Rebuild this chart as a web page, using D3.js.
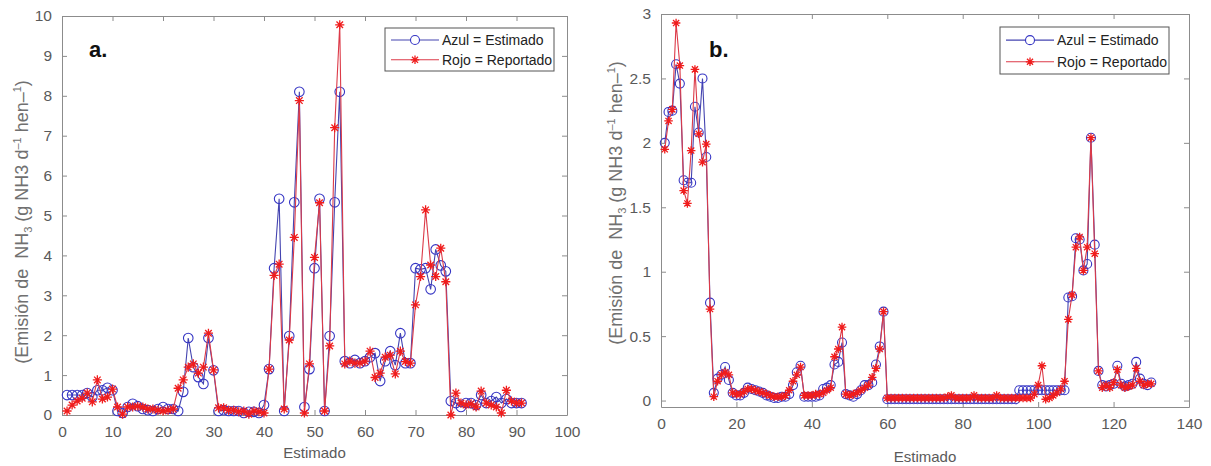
<!DOCTYPE html>
<html>
<head>
<meta charset="utf-8">
<script src="https://cdn.jsdelivr.net/npm/d3@7/dist/d3.min.js"></script>
<style>
  body { margin: 0; background: #fff; }
  svg { display: block; font-family: "Liberation Sans", Arial, sans-serif; }
</style>
</head>
<body>
<svg id="chart" width="1211" height="466"></svg>
<script>
// panel a: emission estimated (blue) vs reported (red), samples 1..91
const estimadoA = [
  0.50, 0.50, 0.50, 0.50, 0.55, 0.45, 0.62, 0.62, 0.68, 0.62,
  0.10, 0.05, 0.20, 0.28, 0.22, 0.15, 0.12, 0.10, 0.15, 0.20,
  0.15, 0.15, 0.10, 0.58, 1.93, 1.20, 0.95, 0.78, 1.93, 1.12,
  0.10, 0.12, 0.10, 0.10, 0.10, 0.05, 0.08, 0.08, 0.05, 0.25,
  1.15, 3.68, 5.42, 0.10, 1.98, 5.33, 8.10, 0.20, 1.15, 3.68,
  5.42, 0.10, 1.98, 5.33, 8.10, 1.35, 1.30, 1.38, 1.30, 1.35,
  1.45, 1.55, 0.85, 1.35, 1.60, 1.25, 2.05, 1.30, 1.30, 3.68,
  3.65, 3.68, 3.15, 4.15, 3.75, 3.60, 0.35, 0.30, 0.20, 0.30,
  0.30, 0.25, 0.50, 0.30, 0.35, 0.45, 0.30, 0.40, 0.30, 0.30,
  0.30
];
const reportadoA = [
  0.10, 0.25, 0.35, 0.42, 0.55, 0.33, 0.88, 0.40, 0.45, 0.65,
  0.20, 0.02, 0.20, 0.20, 0.22, 0.20, 0.15, 0.15, 0.12, 0.10,
  0.12, 0.15, 0.67, 0.88, 1.20, 1.28, 1.05, 1.20, 2.05, 1.13,
  0.18, 0.18, 0.12, 0.12, 0.08, 0.10, 0.02, 0.10, 0.08, 0.05,
  1.15, 3.50, 3.78, 0.15, 1.88, 4.45, 7.88, 0.05, 1.28, 3.95,
  5.32, 0.10, 1.73, 7.20, 9.78, 1.28, 1.35, 1.30, 1.30, 1.35,
  1.60, 0.94, 1.05, 1.45, 1.50, 1.03, 1.60, 1.34, 1.30, 2.76,
  3.47, 5.14, 3.76, 3.47, 4.18, 3.34, 0.00, 0.55, 0.30, 0.25,
  0.28, 0.20, 0.60, 0.30, 0.25, 0.20, 0.05, 0.62, 0.35, 0.30,
  0.30
];

// panel b: samples 1..130
const estimadoB = [
  2.00, 2.24, 2.25, 2.61, 2.46, 1.71, 1.69, 1.69, 2.28, 2.08,
  2.50, 1.89, 0.76, 0.06, 0.17, 0.20, 0.26, 0.16, 0.06, 0.04,
  0.04, 0.06, 0.10, 0.09, 0.08, 0.07, 0.06, 0.04, 0.03, 0.02,
  0.02, 0.03, 0.03, 0.05, 0.12, 0.22, 0.27, 0.03, 0.03, 0.03,
  0.03, 0.04, 0.09, 0.10, 0.12, 0.28, 0.30, 0.45, 0.05, 0.04,
  0.03, 0.05, 0.08, 0.12, 0.12, 0.14, 0.28, 0.42, 0.69, 0.01,
  0.01, 0.01, 0.01, 0.01, 0.01, 0.01, 0.01, 0.01, 0.01, 0.01,
  0.01, 0.01, 0.01, 0.01, 0.01, 0.01, 0.01, 0.01, 0.01, 0.01,
  0.01, 0.01, 0.01, 0.01, 0.01, 0.01, 0.01, 0.01, 0.01, 0.01,
  0.01, 0.01, 0.01, 0.01, 0.08, 0.08, 0.08, 0.08, 0.08, 0.08,
  0.08, 0.08, 0.08, 0.08, 0.08, 0.08, 0.08, 0.80, 0.81, 1.26,
  1.25, 1.01, 1.06, 2.04, 1.21, 0.23, 0.12, 0.11, 0.12, 0.13,
  0.27, 0.13, 0.11, 0.12, 0.13, 0.30, 0.17, 0.13, 0.12, 0.14
];
const reportadoB = [
  1.95, 2.17, 2.26, 2.93, 2.60, 1.63, 1.53, 1.94, 2.57, 2.07,
  1.85, 1.99, 0.71, 0.03, 0.15, 0.20, 0.22, 0.20, 0.06, 0.05,
  0.05, 0.07, 0.09, 0.09, 0.08, 0.07, 0.06, 0.05, 0.04, 0.03,
  0.03, 0.03, 0.04, 0.08, 0.15, 0.20, 0.26, 0.04, 0.04, 0.04,
  0.05, 0.05, 0.06, 0.08, 0.10, 0.34, 0.40, 0.57, 0.05, 0.04,
  0.05, 0.06, 0.08, 0.10, 0.12, 0.18, 0.25, 0.40, 0.69, 0.02,
  0.02, 0.02, 0.02, 0.02, 0.02, 0.02, 0.02, 0.02, 0.02, 0.02,
  0.02, 0.02, 0.02, 0.02, 0.02, 0.03, 0.04, 0.02, 0.02, 0.02,
  0.02, 0.02, 0.04, 0.02, 0.02, 0.02, 0.02, 0.02, 0.04, 0.02,
  0.02, 0.02, 0.02, 0.02, 0.02, 0.02, 0.02, 0.02, 0.05, 0.12,
  0.27, 0.01, 0.02, 0.04, 0.06, 0.09, 0.15, 0.63, 0.82, 1.19,
  1.27, 1.01, 1.19, 2.04, 1.14, 0.23, 0.10, 0.12, 0.10, 0.14,
  0.24, 0.12, 0.10, 0.11, 0.12, 0.25, 0.15, 0.12, 0.13, 0.13
];

const xTicksA = [0, 10, 20, 30, 40, 50, 60, 70, 80, 90, 100];
const yTicksA = [0, 1, 2, 3, 4, 5, 6, 7, 8, 9, 10];
const xTicksB = [0, 20, 40, 60, 80, 100, 120, 140];
const yTicksB = [0, 0.5, 1, 1.5, 2, 2.5, 3];
const legendLabels = ["Azul = Estimado", "Rojo = Reportado"];
const xTitle = "Estimado";

const BLUE = "#3535c4", BLUE_LINE = "#4444b0";
const RED = "#f01c1c", RED_LINE = "#dc3a48";
const AXIS = "#8c8c8c", TXT = "#5a5a5a";

const svg = d3.select("#chart");

// MATLAB style '*' marker
function star(h) {
  const a = h * 0.72;
  return `M${-h},0L${h},0M0,${-h}L0,${h}M${-a},${-a}L${a},${a}M${-a},${a}L${a},${-a}`;
}

function drawPanel(cfg) {
  const { left, right, top, bottom } = cfg.box;
  const x = d3.scaleLinear().domain(cfg.xDomain).range([left, right]);
  const y = d3.scaleLinear().domain(cfg.yDomain).range([bottom, top]);
  const g = svg.append("g");

  // axes with inward ticks on all four sides
  const ax = (axis, tr, labels) => {
    const a = g.append("g").attr("transform", tr).call(axis);
    a.select(".domain").attr("stroke", AXIS);
    a.selectAll(".tick line").attr("stroke", AXIS);
    a.selectAll("text").attr("fill", TXT).style("font-size", "15.5px")
      .style("font-family", '"Liberation Sans", Arial, sans-serif');
    if (!labels) a.selectAll("text").remove();
    return a;
  };
  ax(d3.axisBottom(x).tickValues(cfg.xTicks).tickSizeInner(-5).tickSizeOuter(0).tickPadding(11).tickFormat(d3.format("~g")),
     `translate(0,${bottom})`, true);
  ax(d3.axisTop(x).tickValues(cfg.xTicks).tickSizeInner(-5).tickSizeOuter(0),
     `translate(0,${top})`, false);
  ax(d3.axisLeft(y).tickValues(cfg.yTicks).tickSizeInner(-5).tickSizeOuter(0).tickPadding(10).tickFormat(d3.format("~g")),
     `translate(${left},0)`, true);
  ax(d3.axisRight(y).tickValues(cfg.yTicks).tickSizeInner(-5).tickSizeOuter(0),
     `translate(${right},0)`, false);

  const line = d3.line().x((d, i) => x(i + 1)).y(d => y(d));

  g.append("path").datum(cfg.est).attr("d", line)
    .attr("fill", "none").attr("stroke", BLUE_LINE).attr("stroke-width", 1.1);
  g.append("g").selectAll("circle").data(cfg.est).join("circle")
    .attr("cx", (d, i) => x(i + 1)).attr("cy", d => y(d)).attr("r", cfg.r)
    .attr("fill", "none").attr("stroke", BLUE).attr("stroke-width", 1.1);

  g.append("path").datum(cfg.rep).attr("d", line)
    .attr("fill", "none").attr("stroke", RED_LINE).attr("stroke-width", 1.1);
  g.append("g").selectAll("path").data(cfg.rep).join("path")
    .attr("transform", (d, i) => `translate(${x(i + 1)},${y(d)})`)
    .attr("d", star(cfg.r * 0.95))
    .attr("fill", "none").attr("stroke", RED).attr("stroke-width", 1.3);

  // panel tag
  g.append("text").attr("x", cfg.tag.x).attr("y", cfg.tag.y)
    .attr("font-weight", "bold").attr("font-size", 22).attr("fill", "#111")
    .text(cfg.tag.text);

  // x title
  g.append("text").attr("x", (left + right) / 2).attr("y", cfg.xTitleY)
    .attr("text-anchor", "middle").attr("font-size", 15).attr("fill", TXT)
    .text(xTitle);

  // y title with sub/superscripts
  const yt = g.append("text")
    .attr("transform", `translate(${cfg.yTitle.x},${cfg.yTitle.y}) rotate(-90)`)
    .attr("text-anchor", "middle").attr("font-size", 18).attr("fill", "#707070");
  yt.append("tspan").text("(Emisión de\u00A0\u00A0NH");
  yt.append("tspan").attr("font-size", 11).attr("dy", 4).text("3");
  yt.append("tspan").attr("dy", -4).text(" (g NH3 d");
  yt.append("tspan").attr("font-size", 11).attr("dy", -7).text("–1");
  yt.append("tspan").attr("dy", 7).text(" hen–");
  yt.append("tspan").attr("font-size", 11).attr("dy", -7).text("1");
  yt.append("tspan").attr("dy", 7).text(")");

  // legend
  const L = cfg.legend;
  const lg = g.append("g").attr("transform", `translate(${L.x},${L.y})`);
  lg.append("rect").attr("width", L.w).attr("height", L.h)
    .attr("fill", "#fff").attr("stroke", "#555").attr("stroke-width", 1);
  const rowY = [L.h * 0.28, L.h * 0.74];
  lg.append("line").attr("x1", 6).attr("x2", 54).attr("y1", rowY[0]).attr("y2", rowY[0])
    .attr("stroke", BLUE_LINE).attr("stroke-width", 1.1);
  lg.append("circle").attr("cx", 30).attr("cy", rowY[0]).attr("r", 4.5)
    .attr("fill", "#fff").attr("stroke", BLUE).attr("stroke-width", 1.1);
  lg.append("line").attr("x1", 6).attr("x2", 54).attr("y1", rowY[1]).attr("y2", rowY[1])
    .attr("stroke", RED_LINE).attr("stroke-width", 1.1);
  lg.append("path").attr("transform", `translate(30,${rowY[1]})`).attr("d", star(4.2))
    .attr("fill", "none").attr("stroke", RED).attr("stroke-width", 1.3);
  legendLabels.forEach((t, i) => {
    lg.append("text").attr("x", 57).attr("y", rowY[i] + 5)
      .attr("font-size", 14).attr("fill", "#222").text(t);
  });
}

drawPanel({
  est: estimadoA, rep: reportadoA,
  xDomain: [0, 100], yDomain: [0, 10], xTicks: xTicksA, yTicks: yTicksA,
  box: { left: 62, right: 567, top: 16, bottom: 415 },
  r: 4.8,
  tag: { text: "a.", x: 89, y: 57 },
  xTitleY: 458,
  yTitle: { x: 28, y: 222 },
  legend: { x: 385, y: 28, w: 169, h: 43 }
});

drawPanel({
  est: estimadoB, rep: reportadoB,
  xDomain: [0, 140], yDomain: [-0.05, 3], xTicks: xTicksB, yTicks: yTicksB,
  box: { left: 661, right: 1189, top: 14, bottom: 407 },
  r: 4.5,
  tag: { text: "b.", x: 709, y: 57 },
  xTitleY: 462,
  yTitle: { x: 622, y: 203 },
  legend: { x: 1000, y: 27, w: 169, h: 47 }
});
</script>
</body>
</html>
